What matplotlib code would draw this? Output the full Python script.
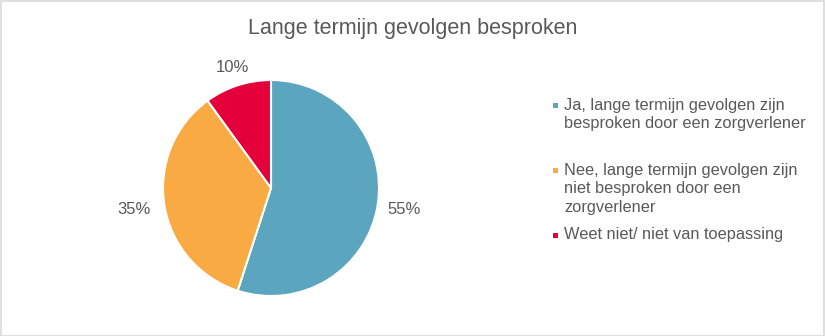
import matplotlib.pyplot as plt
from matplotlib.patches import Rectangle

plt.rcParams['font.family'] = ['Liberation Sans', 'DejaVu Sans']

# Antwoorden en percentages
labels = [
    "Ja, lange termijn gevolgen zijn\nbesproken door een zorgverlener",
    "Nee, lange termijn gevolgen zijn\nniet besproken door een\nzorgverlener",
    "Weet niet/ niet van toepassing",
]
values = [55, 35, 10]
colors = ["#5BA5BF", "#F9AA43", "#E4003B"]
title = "Lange termijn gevolgen besproken"

W, H = 825, 336
fig = plt.figure(figsize=(W / 100, H / 100), dpi=100)

# lichtgrijze rand om de figuur
fig.add_artist(Rectangle((0.5 / W, 0.5 / H), 1 - 1.5 / W, 1 - 1.5 / H,
                         transform=fig.transFigure, fill=False,
                         edgecolor="#D9D9D9", linewidth=1.2))

cx, cy, r = 271, 188, 108
ax = fig.add_axes([(cx - r) / W, (H - cy - r) / H, 2 * r / W, 2 * r / H])
wedges, texts, autotexts = ax.pie(
    values, colors=colors, startangle=90, counterclock=False,
    radius=1, autopct="%d%%", pctdistance=1.25,
    wedgeprops=dict(edgecolor="white", linewidth=1.5),
    textprops=dict(color="#595959", fontsize=12))
ax.set_xlim(-1, 1)
ax.set_ylim(-1, 1)

# percentages iets anders van de rand
for t, d in zip(autotexts, [1.25, 1.28, 1.17]):
    x, y = t.get_position()
    t.set_position((x * d / 1.25, y * d / 1.25))

fig.text(0.5, 1 - 34 / H, title, ha="center", va="baseline",
         fontsize=15.5, color="#595959")

# legenda, regel voor regel
leg_y = [105, 170, 235]
line_h = 18.7
for lab, col, y in zip(labels, colors, leg_y):
    fig.add_artist(Rectangle((553 / W, (H - y - 2.5) / H), 5 / W, 5 / H,
                             transform=fig.transFigure, facecolor=col,
                             edgecolor="none"))
    for i, line in enumerate(lab.split("\n")):
        fig.text(564 / W, 1 - (y + 4.5 + i * line_h) / H, line,
                 ha="left", va="baseline", fontsize=11.8, color="#595959")

fig.savefig("out.png", dpi=100)
